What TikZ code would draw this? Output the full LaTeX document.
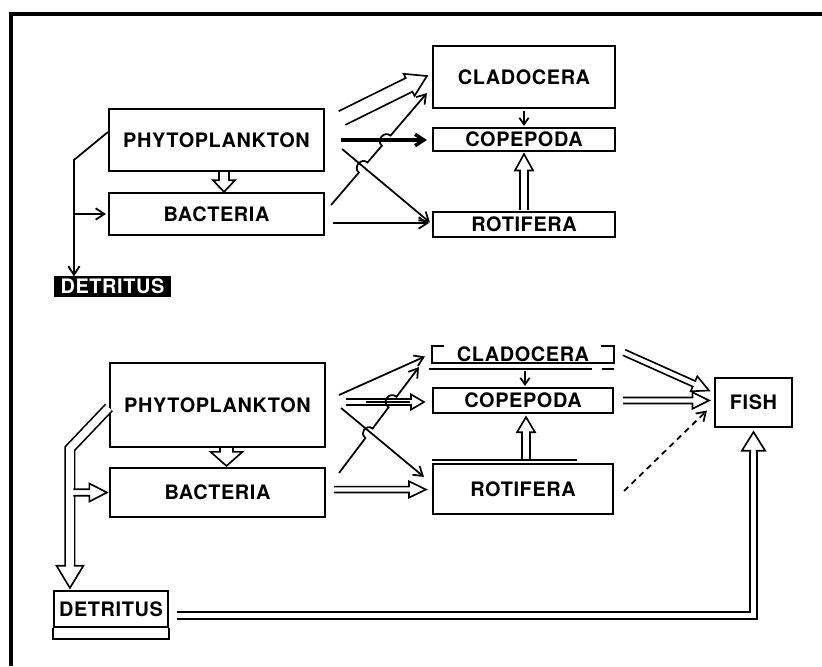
\documentclass[tikz,border=0pt]{standalone}
\usepackage{fontspec}
\usepackage{tikz}
\usetikzlibrary{
  arrows.meta,
  positioning,
  calc
}
\newfontfamily\taxafamily[LetterSpace=3]{TeX Gyre Heros}
\newcommand{\taxonfont}{\taxafamily\bfseries\fontsize{17}{20}\selectfont}
\tikzset{
  taxon/.style={
    draw, line width=1.8pt, inner sep=0pt, font=\taxonfont, align=center
  },
  deadbox/.style={taxon, fill=black, text=white},
  boxline/.style={line width=1.8pt},
  feed/.style={-{Straight Barb[length=2.6mm, width=3.4mm]}, line width=1.5pt},
  heavyfeed/.style={feed, line width=3pt},
  minorfeed/.style={-{Straight Barb[length=2mm, width=2.8mm]}, line width=1.5pt},
  guessfeed/.style={feed, dash pattern=on 5pt off 4pt},
  dbl/.style={double, double distance=#1, line width=1.4pt},
  fat/.style n args={3}{
    draw, fill=white, line width=1.4pt, line join=miter,
    to path={
      let \p1=(\tikztostart), \p2=(\tikztotarget),
          \n1={atan2(\y2-\y1,\x2-\x1)} in
      ($(\p1)+(\n1+90:#1)$) -- ($(\p2)+(\n1+180:#3)+(\n1+90:#1)$)
      -- ($(\p2)+(\n1+180:#3)+(\n1+90:#2)$) -- (\p2)
      -- ($(\p2)+(\n1+180:#3)+(\n1-90:#2)$)
      -- ($(\p2)+(\n1+180:#3)+(\n1-90:#1)$) -- ($(\p1)+(\n1-90:#1)$)
    }
  }
}
\begin{document}
\begin{tikzpicture}[x=0.03cm, y=-0.03cm]
  \useasboundingbox (0,0) rectangle (822,666);
  \draw[line width=2.6pt] (822,14) -- (11,14) -- (11,666);

  % upper web
  \node[taxon, minimum width=6.45cm, minimum height=1.86cm] (phyA) at (216.5,140) {PHYTOPLANKTON};
  \node[taxon, minimum width=6.45cm, minimum height=1.26cm] (bacA) at (216.5,214) {BACTERIA};
  \node[taxon, minimum width=5.46cm, minimum height=1.86cm] (cladA) at (524,77) {CLADOCERA};
  \node[taxon, minimum width=5.46cm, minimum height=0.69cm] (copA) at (524,139.5) {COPEPODA};
  \node[taxon, minimum width=5.46cm, minimum height=0.75cm] (rotA) at (524,224.5) {ROTIFERA};
  \node[deadbox, minimum width=3.45cm, minimum height=0.54cm] (detA) at (112.5,286.5) {DETRITUS};
  \coordinate (spineA) at ($(phyA.west)+(-34,0)$);

  \draw[fat={4.3pt}{9.4pt}{10pt}] ($(phyA.south)+(7.5,0)$) to ($(bacA.north)+(7.5,0)$);
  \draw[fat={6.5pt}{10.5pt}{17pt}] ($(phyA.east)+(17,-22)$) to ($(cladA.west)+(-5,-1)$);
  \draw[heavyfeed] ($(phyA.east)+(16,0)$) -- ($(copA.west)+(-5,0.5)$);
  \draw[feed] ($(phyA.east)+(17,9)$) -- ($(rotA.west)+(-2,-2)$);
  \draw[feed] ($(bacA.east)+(8,9)$) -- ($(rotA.west)+(-3,-1.5)$);
  \coordinate (hopA1) at ($(bacA.east)+(6,-9)$);
  \coordinate (hopA2) at ($(cladA.south west)+(-5,-16)$);
  \draw[feed] (hopA1) -- ($(hopA1)!0.29!(hopA2)$)
    .. controls ($(hopA1)!0.29!(hopA2)!7pt!90:(hopA2)$) and ($(hopA1)!0.38!(hopA2)!7pt!90:(hopA2)$) .. ($(hopA1)!0.38!(hopA2)$)
    -- ($(hopA1)!0.53!(hopA2)$)
    .. controls ($(hopA1)!0.53!(hopA2)!7pt!90:(hopA2)$) and ($(hopA1)!0.62!(hopA2)!7pt!90:(hopA2)$) .. ($(hopA1)!0.62!(hopA2)$)
    -- (hopA2);
  \draw[minorfeed] ($(cladA.south)+(0,2)$) -- ($(copA.north)+(0,-1)$);
  \draw[fat={3.4pt}{7.7pt}{14pt}] ($(rotA.north)+(0,-1)$) to ($(copA.south)+(0,2)$);
  \draw[feed] ($(phyA.west)+(0,-8)$) -- ($(spineA)+(0,20)$) -- (spineA |- detA.north);
  \draw[feed] (spineA |- bacA.west) -- ($(bacA.west)+(-2,0)$);

  % lower web
  \node[taxon, minimum width=6.45cm, minimum height=2.52cm] (phyB) at (217.5,405) {PHYTOPLANKTON};
  \node[taxon, minimum width=6.45cm, minimum height=1.47cm] (bacB) at (217.5,492.5) {BACTERIA};
  \node[taxon, draw=none, minimum width=5.4cm, minimum height=0.45cm] (cladB) at (523,354.5) {CLADOCERA};
  \node[taxon, minimum width=5.4cm, minimum height=0.75cm] (copB) at (523,400.5) {COPEPODA};
  \node[taxon, minimum width=5.4cm, minimum height=1.5cm] (rotB) at (523,489) {ROTIFERA};
  \node[taxon, minimum width=2.31cm, minimum height=1.47cm] (fish) at (753.5,402.5) {FISH};
  \node[taxon, minimum width=3.42cm, minimum height=1.08cm] (detB) at (111,609) {DETRITUS};
  \draw[boxline] (detB.south west) -- ++(0,11) -| (detB.south east);
  \draw[boxline] ($(cladB.north west)+(12,0)$) -- (cladB.north west) -- (cladB.south west)
    -- (cladB.south east) -- (cladB.north east) -- ($(cladB.north east)+(-13,0)$);
  \draw[boxline] ($(cladB.south west)+(-3,6)$) -- ($(cladB.south east)+(-22,6)$);
  \draw[boxline] ($(cladB.south east)+(-12,6)$) -- ($(cladB.south east)+(0,6)$);
  \draw[line width=2pt] ($(rotB.north west)+(0,-3)$) -- ($(rotB.north west)+(145,-3)$);

  \draw[fat={5.5pt}{13.6pt}{12pt}] ($(phyB.south)+(9,0)$) to ($(bacB.north)+(9,-1)$);
  \coordinate (spineB) at ($(phyB.west)+(-39,43.5)$);
  \coordinate (sinkB) at (spineB |- detB.north);
  \draw[dbl=6.5pt] ($(phyB.west)+(0,2.5)$) -- (spineB) -- ($(sinkB)+(0,-24)$);
  \draw[fat={3.95pt}{11.5pt}{19pt}] ($(sinkB)+(0,-25)$) to ($(sinkB)+(0,-2)$);
  \draw[fat={2.8pt}{7.7pt}{15pt}] ($(spineB |- bacB.west)+(3.5,0)$) to ($(bacB.west)+(-2,0)$);
  \coordinate (riseB) at ($(fish.south)+(0,24)$);
  \draw[dbl=4.2pt] ($(detB.east)+(8,6.5)$) -| (riseB);
  \draw[fat={2.8pt}{10pt}{16pt}] ($(riseB)+(0,1)$) to ($(fish.south)+(0,4)$);

  \draw[feed] ($(phyB.east)+(13,-10)$) -- ($(cladB.west)+(-7,2)$);
  \draw[fat={2.6pt}{6.5pt}{11pt}] ($(phyB.east)+(20,-3)$) to ($(copB.west)+(-8,1.5)$);
  \draw[line width=2.4pt] ($(phyB.east)+(40,-3)$) -- ($(phyB.east)+(84,-3)$);
  \draw[feed] ($(phyB.east)+(15,3)$) -- ($(rotB.north west)+(-8,14)$);
  \draw[fat={2.5pt}{7pt}{14.5pt}] ($(bacB.east)+(8,-3)$) to ($(rotB.west)+(-6,0.5)$);
  \coordinate (hopB1) at ($(bacB.north east)+(13,6)$);
  \coordinate (hopB2) at ($(cladB.south west)+(-13,4)$);
  \draw[feed] (hopB1) -- ($(hopB1)!0.33!(hopB2)$)
    .. controls ($(hopB1)!0.33!(hopB2)!7pt!90:(hopB2)$) and ($(hopB1)!0.42!(hopB2)!7pt!90:(hopB2)$) .. ($(hopB1)!0.42!(hopB2)$)
    -- ($(hopB1)!0.62!(hopB2)$)
    .. controls ($(hopB1)!0.62!(hopB2)!8pt!90:(hopB2)$) and ($(hopB1)!0.72!(hopB2)!8pt!90:(hopB2)$) .. ($(hopB1)!0.72!(hopB2)$)
    -- (hopB2);
  \draw[minorfeed] ($(cladB.south)+(2,8)$) -- ($(copB.north)+(2,-1)$);
  \draw[fat={3.4pt}{7.7pt}{13pt}] ($(rotB.north)+(3,-4)$) to ($(copB.south)+(3,3)$);
  \draw[fat={2.6pt}{7pt}{14pt}] ($(cladB.east)+(10,-2)$) to ($(fish.west)+(-5,-12)$);
  \draw[fat={2.6pt}{7pt}{14pt}] ($(copB.east)+(9,0)$) to ($(fish.west)+(-5,-2)$);
  \draw[guessfeed] ($(rotB.east)+(10,2)$) -- ($(fish.west)+(-7,8)$);
\end{tikzpicture}
\end{document}
